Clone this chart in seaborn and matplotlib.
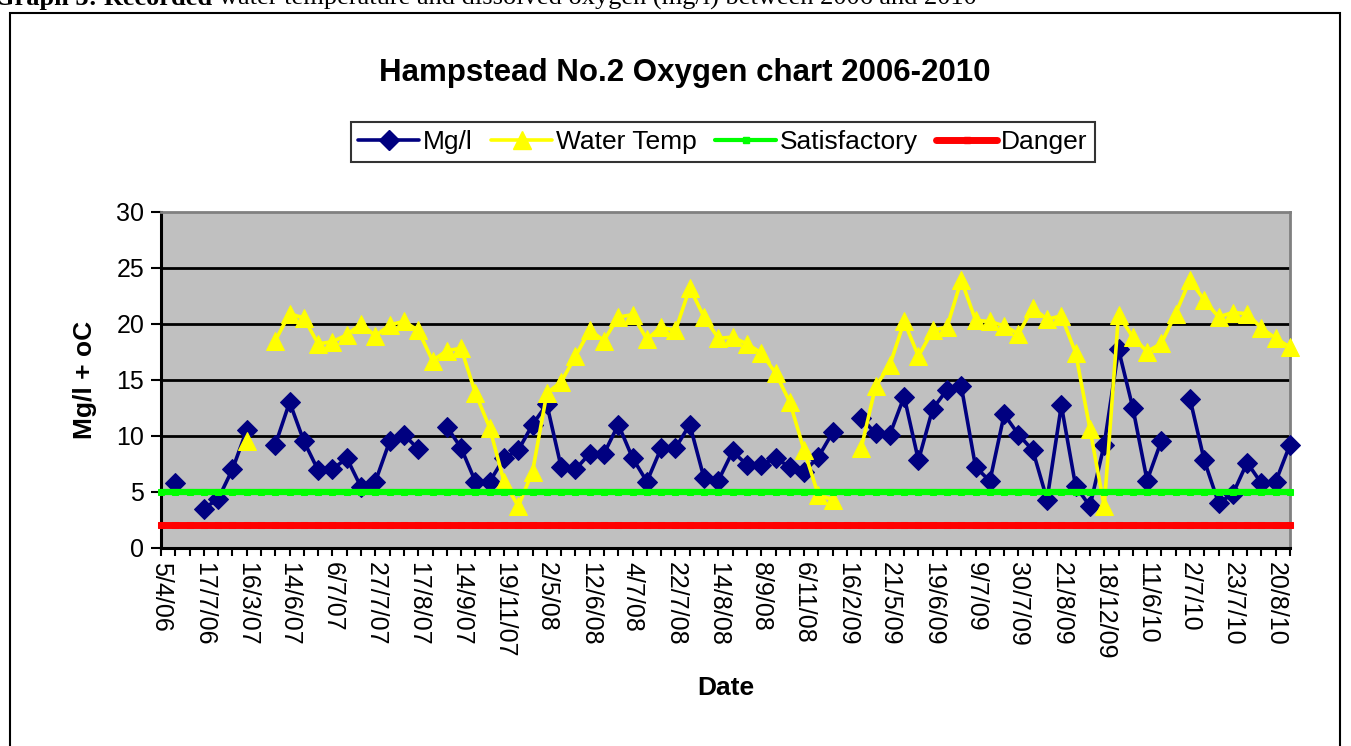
import numpy as np
import pandas as pd
import matplotlib
matplotlib.use("Agg")
import matplotlib.pyplot as plt
from matplotlib.lines import Line2D
from matplotlib.patches import Rectangle
import seaborn as sns

# ---------------- data ----------------
# 80 sampling occasions; only every third one carries a date label on the axis
date_labels = ["5/4/06", "17/7/06", "16/3/07", "14/6/07", "6/7/07", "27/7/07", "17/8/07",
               "14/9/07", "19/11/07", "2/5/08", "12/6/08", "4/7/08", "22/7/08", "14/8/08",
               "8/9/08", "6/11/08", "16/2/09", "21/5/09", "19/6/09", "9/7/09", "30/7/09",
               "21/8/09", "18/12/09", "11/6/10", "2/7/10", "23/7/10", "20/8/10"]

nan = np.nan
oxygen_mgl = [nan, 5.75, nan, 3.5, 4.35, 7.0, 10.5, nan, 9.2, 13.0,
              9.5, 6.9, 7.0, 8.0, 5.4, 5.9, 9.5, 10.1, 8.8, nan,
              10.8, 8.9, 5.9, 5.9, 8.0, 8.7, 11.0, 12.8, 7.2, 7.0,
              8.4, 8.4, 11.0, 8.0, 5.9, 8.9, 8.9, 11.0, 6.2, 6.0,
              8.6, 7.4, 7.4, 8.0, 7.2, 6.8, 8.1, 10.3, nan, 11.6,
              10.2, 10.1, 13.5, 7.8, 12.4, 14.1, 14.4, 7.2, 5.95, 11.9,
              10.1, 8.7, 4.3, 12.7, 5.5, 3.7, 9.2, 17.7, 12.5, 6.0,
              9.55, nan, 13.3, 7.8, 4.0, 4.8, 7.6, 5.75, 5.9, 9.2]

water_temp = [nan, nan, nan, nan, nan, nan, 9.5, nan, 18.5, 20.9,
              20.5, 18.2, 18.4, 19.0, 20.0, 18.9, 19.9, 20.2, 19.4, 16.7,
              17.6, 17.8, 13.8, 10.7, 5.9, 3.7, 6.8, 13.8, 14.8, 17.1,
              19.4, 18.5, 20.6, 20.8, 18.6, 19.7, 19.4, 23.2, 20.6, 18.7,
              18.8, 18.2, 17.4, 15.6, 13.0, 8.7, 4.7, 4.3, nan, 8.9,
              14.4, 16.3, 20.2, 17.1, 19.4, 19.7, 23.9, 20.3, 20.2, 19.8,
              19.1, 21.4, 20.4, 20.7, 17.4, 10.6, 3.7, 20.8, 18.8, 17.5,
              18.25, 20.9, 23.9, 22.1, 20.6, 21.0, 20.9, 19.6, 18.7, 17.9]

satisfactory_level = 5
danger_level = 2

series_names = ["Mg/l", "Water Temp", "Satisfactory", "Danger"]
y_ticks = [0, 5, 10, 15, 20, 25, 30]

# ---------------- helpers ----------------
n = len(oxygen_mgl)
idx = np.arange(n)


def segmented(values):
    """Split a series into contiguous runs so gaps stay open."""
    df = pd.DataFrame({"idx": idx, "val": values})
    df["seg"] = df["val"].isna().cumsum()
    return df.dropna()


df_o2 = segmented(oxygen_mgl)
df_wt = segmented(water_temp)
df_sat = pd.DataFrame({"idx": idx, "val": [satisfactory_level] * n})
df_dan = pd.DataFrame({"idx": idx, "val": [danger_level] * n})

# ---------------- figure ----------------
sns.set_theme(style="white")
plt.rcParams["font.family"] = ["Liberation Sans", "DejaVu Sans"]
for key in ["text.color", "axes.labelcolor", "xtick.color", "ytick.color"]:
    plt.rcParams[key] = "black"

W, H = 1351, 746
fig = plt.figure(figsize=(W / 100, H / 100), dpi=100)
fig.patch.set_facecolor("white")

L, R, T, B = 161, 1290, 211.7, 547.7
ax = fig.add_axes([L / W, 1 - B / H, (R - L) / W, (B - T) / H])
ax.set_facecolor("#C0C0C0")

navy = "#000080"
yellow = "#FFFF00"
green = "#00FF00"
red = "#FF0000"

sns.lineplot(data=df_o2, x="idx", y="val", units="seg", estimator=None, ax=ax,
             color=navy, lw=2.6, marker="D", markersize=10, markeredgecolor=navy,
             legend=False, zorder=3, clip_on=False)
sns.lineplot(data=df_wt, x="idx", y="val", units="seg", estimator=None, ax=ax,
             color=yellow, lw=2.6, marker="^", markersize=13, markeredgecolor=yellow,
             legend=False, zorder=4, clip_on=False)
sns.lineplot(data=df_sat, x="idx", y="val", ax=ax, color=green, lw=4.5,
             marker="s", markersize=4, markeredgecolor=green, legend=False,
             zorder=5, clip_on=False)
sns.lineplot(data=df_dan, x="idx", y="val", ax=ax, color=red, lw=5,
             marker="s", markersize=5, markeredgecolor=red, legend=False,
             zorder=6, clip_on=False)

ax.set_xlim(0, n - 1)
ax.set_ylim(0, 30)
ax.set_yticks(y_ticks)
ax.set_yticklabels([str(v) for v in y_ticks], fontsize=18)
ax.set_xticks(idx[::3])
ax.set_xticklabels(date_labels, rotation=-90, fontsize=18, va="top", ha="center")
ax.set_xticks(idx, minor=True)
ax.tick_params(axis="x", which="both", direction="out", length=6, width=1.5,
               color="black", bottom=True, pad=4)
ax.tick_params(axis="y", direction="out", length=7, width=1.5, color="black",
               left=True, pad=5)
for yv in y_ticks[1:-1]:
    ax.axhline(yv, color="black", lw=2, zorder=1)

for side in ["left", "bottom"]:
    ax.spines[side].set_color("black")
    ax.spines[side].set_linewidth(2.2)
for side in ["top", "right"]:
    ax.spines[side].set_color("#808080")
    ax.spines[side].set_linewidth(2)

ax.set_xlabel("Date", fontsize=19, fontweight="bold", labelpad=12)
ax.set_ylabel("Mg/l + oC", fontsize=19, fontweight="bold", labelpad=14)

# title and legend
fig.text(685 / W, 1 - 73 / H, "Hampstead No.2 Oxygen chart 2006-2010",
         ha="center", va="center", fontsize=22.5, fontweight="bold")

handles = [
    Line2D([], [], color=navy, lw=2.6, marker="D", markersize=10),
    Line2D([], [], color=yellow, lw=2.6, marker="^", markersize=13),
    Line2D([], [], color=green, lw=3, marker="s", markersize=4),
    Line2D([], [], color=red, lw=5, marker="s", markersize=5),
]
leg = fig.legend(handles, series_names, loc="center",
                 bbox_to_anchor=(723 / W, 1 - 142 / H), ncol=4, fontsize=19,
                 frameon=True, fancybox=False, edgecolor="black",
                 handlelength=2.3, handletextpad=0.15, columnspacing=0.7,
                 borderpad=0.3)
leg.get_frame().set_linewidth(1.5)

# chart frame and document caption (cut off at the top as in the source page)
fig.patches.append(Rectangle((10 / W, -0.05), 1330 / W, 1 - 13 / H + 0.05,
                             transform=fig.transFigure, fill=False,
                             edgecolor="black", lw=1.5))
renderer = fig.canvas.get_renderer()
cap1 = fig.text(-6 / W, 1 - 5 / H, "Graph 3: Recorded ", ha="left", va="baseline",
                fontsize=19, fontweight="bold", family="Liberation Serif")
bb = cap1.get_window_extent(renderer=renderer)
fig.text(bb.x1 / W, 1 - 5 / H,
         "water temperature and dissolved oxygen (mg/l) between 2006 and 2010",
         ha="left", va="baseline", fontsize=19, family="Liberation Serif")

fig.savefig("out.png", dpi=100, facecolor="white")
